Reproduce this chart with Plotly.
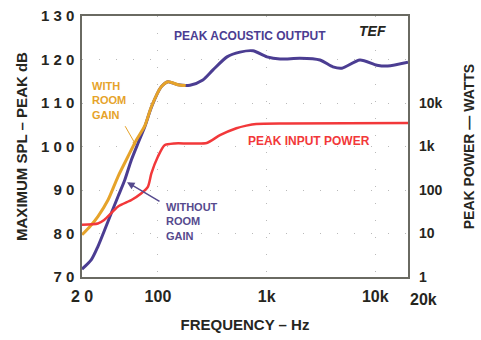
import math
import plotly.graph_objects as go

# ---- data ----
# Peak acoustic output without room gain (Hz, dB SPL)
out_f = [20, 24.4, 28, 32.3, 37.1, 42.9, 49.5, 56.9, 65.4, 75.8, 87.2, 107, 124, 153, 197, 259, 321,
         432, 568, 748, 1007, 1328, 2028, 3097, 4074, 4929, 7220, 10350, 13000, 20000]
out_db = [71.8, 74.0, 77.0, 80.8, 84.6, 88.5, 92.3, 96.9, 100.7, 104.6, 109.1, 113.7, 114.9, 114.2,
          114.1, 115.3, 117.6, 120.6, 121.7, 122.0, 120.6, 120.1, 120.3, 119.9, 118.3, 118.0, 119.9,
          118.7, 118.5, 119.4]

# Peak acoustic output with room gain (low-frequency part)
room_f = [20, 24, 28, 34.7, 42.9, 53, 63.3, 75.8, 87.2, 107, 124, 153, 180]
room_db = [79.7, 81.8, 83.9, 87.7, 93.1, 97.7, 101.5, 104.8, 109.2, 113.7, 114.9, 114.2, 114.0]

# Peak input power (Hz, watts)
pwr_f = [20, 28, 32, 43, 57, 70, 81, 87, 100, 115, 142, 189, 281, 372, 527, 650, 802, 1500, 20000]
pwr_w = [15.8, 17, 20.4, 41.7, 58.9, 83, 120, 240, 589, 1070, 1175, 1175, 1200, 1820, 2630, 3020,
         3310, 3390, 3470]

spl_ticks = [70, 80, 90, 100, 110, 120, 130]
spl_text = ["7 0", "8 0", "9 0", "1 0 0", "1 1 0", "1 2 0", "1 3 0"]
freq_ticks = [20, 100, 1000, 10000]
freq_text = ["2 0", "100", "1k", "10k"]
watt_ticks = [1, 10, 100, 1000, 10000]
watt_text = ["1", "10", "100", "1k", "10k"]

PURPLE = "#4b3d92"
ORANGE = "#e6a32a"
RED = "#f2383a"
INK = "#26261e"
FONT = "Liberation Sans"

fig = go.Figure()
fig.add_trace(go.Scatter(x=out_f, y=out_db, mode="lines",
                         line=dict(color=PURPLE, width=3, shape="spline", smoothing=0.7),
                         showlegend=False, hoverinfo="skip"))
fig.add_trace(go.Scatter(x=pwr_f, y=pwr_w, yaxis="y2", mode="lines",
                         line=dict(color=RED, width=2.5, shape="spline", smoothing=0.6),
                         showlegend=False, hoverinfo="skip"))
fig.add_trace(go.Scatter(x=room_f, y=room_db, mode="lines",
                         line=dict(color=ORANGE, width=3, shape="spline", smoothing=0.7),
                         showlegend=False, hoverinfo="skip"))

grid = dict(showgrid=True, gridcolor="rgba(140,140,140,0.6)", griddash="1px,16px", gridwidth=1)

fig.update_layout(
    width=481, height=340,
    margin=dict(l=82, r=73, t=16, b=63),
    paper_bgcolor="white", plot_bgcolor="white",
    font=dict(family=FONT, color=INK, weight=700),
    xaxis=dict(type="log", range=[math.log10(20), math.log10(20000)], tickvals=freq_ticks, ticktext=freq_text,
               tickfont=dict(size=16, weight=700), ticks="", ticklabelstandoff=4, automargin=False,
               showline=True, linecolor="#6a6a62", linewidth=1.5, mirror=True, zeroline=False,
               title=dict(text="FREQUENCY – Hz", font=dict(size=15, weight=700), standoff=16), **grid),
    yaxis=dict(range=[70, 130], tickvals=spl_ticks, ticktext=spl_text, automargin=False,
               tickfont=dict(size=15, weight=700), ticks="", ticklabelstandoff=3,
               showline=True, linecolor="#6a6a62", linewidth=1.5, mirror=True, zeroline=False,
               title=dict(text="MAXIMUM SPL – PEAK dB", font=dict(size=15, weight=700), standoff=10), **grid),
    yaxis2=dict(type="log", range=[0, 6], overlaying="y", side="right", tickvals=watt_ticks, ticktext=watt_text,
                tickfont=dict(size=14, weight=700), ticks="", ticklabelstandoff=10, showgrid=False,
                zeroline=False, automargin=False,
                title=dict(text="PEAK POWER — WATTS", font=dict(size=14, weight=700), standoff=22)),
)

lx = math.log10
ann = []
ann.append(dict(x=lx(20000), y=0, xref="x", yref="paper", yshift=-22, text="20k", showarrow=False,
                xanchor="left", yanchor="middle", font=dict(size=16, weight=700, color=INK)))
ann.append(dict(x=0.514, y=1, xref="paper", yref="paper", yshift=-20, text="PEAK ACOUSTIC OUTPUT",
                showarrow=False, xanchor="center", yanchor="middle", font=dict(size=12, weight=700, color=PURPLE)))
ann.append(dict(x=0.89, y=1, xref="paper", yref="paper", yshift=-15, text="<i>TEF</i>",
                showarrow=False, xanchor="center", yanchor="middle", font=dict(size=14, weight=700, color=INK)))
ann.append(dict(x=0.89, y=101.2, xref="paper", yref="y", text="PEAK INPUT POWER", showarrow=False,
                xanchor="right", yanchor="middle", font=dict(size=12, weight=700, color=RED)))
ann.append(dict(x=0.025, y=110.5, xref="paper", yref="y", text="WITH<br>ROOM<br>GAIN", showarrow=False,
                xanchor="left", yanchor="middle", align="left", font=dict(size=11, weight=700, color=ORANGE)))
ann.append(dict(x=lx(62.8), y=100.3, xref="x", yref="y", ax=-12, ay=-21, text=" ", showarrow=True,
                arrowhead=2, arrowsize=0.8, arrowwidth=1, arrowcolor=ORANGE, font=dict(size=1)))
ann.append(dict(x=0.25, y=82.8, xref="paper", yref="y", text="WITHOUT<br>ROOM<br>GAIN", showarrow=False,
                xanchor="left", yanchor="middle", align="left", font=dict(size=11, weight=700, color="#564a8e")))
ann.append(dict(x=lx(51.9), y=91.8, xref="x", yref="y", ax=34, ay=20, text=" ", showarrow=True,
                arrowhead=2, arrowsize=1, arrowwidth=1.5, arrowcolor="#564a8e", font=dict(size=1)))
fig.update_layout(annotations=ann)

fig.write_html("out.html", config={"displayModeBar": False},
               post_script="document.body.style.margin='0';")
